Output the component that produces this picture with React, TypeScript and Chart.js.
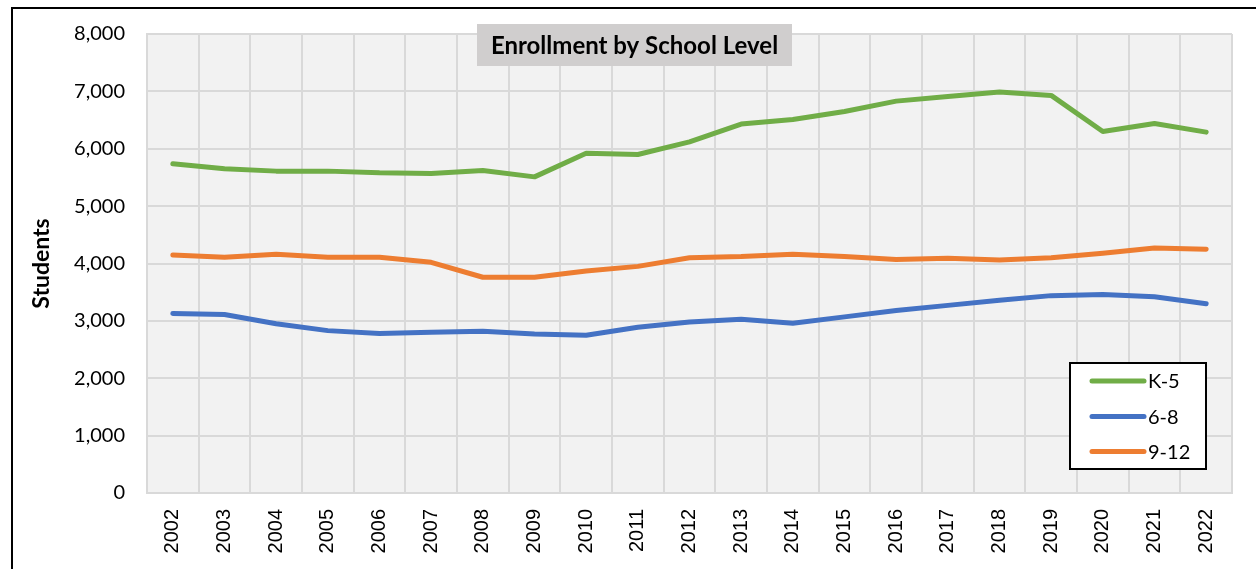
import React, { useEffect, useRef } from "react";
import { Chart, registerables } from "chart.js";

Chart.register(...registerables);

const years = ["2002","2003","2004","2005","2006","2007","2008","2009","2010","2011","2012","2013","2014","2015","2016","2017","2018","2019","2020","2021","2022"];
const k5 = [5740,5650,5610,5610,5580,5570,5620,5510,5920,5900,6120,6430,6510,6650,6830,6910,6990,6930,6300,6440,6290];
const g68 = [3130,3110,2950,2830,2780,2800,2820,2770,2750,2890,2980,3030,2960,3070,3180,3270,3360,3440,3460,3420,3300];
const g912 = [4150,4110,4160,4110,4110,4020,3760,3760,3870,3950,4100,4120,4160,4120,4070,4090,4060,4100,4180,4270,4250];
const seriesNames = ["K-5", "6-8", "9-12"];
const seriesColors = ["#70ad47", "#4472c4", "#ed7d31"];
const titleText = "Enrollment by School Level";
const yTitle = "Students";

const FONT = "Lato, 'Open Sans', sans-serif";

const decorPlugin = {
  id: "decor",
  beforeDraw(chart: any) {
    const { ctx, chartArea } = chart;
    ctx.save();
    ctx.fillStyle = "#ffffff";
    ctx.fillRect(0, 0, chart.width, chart.height);
    ctx.fillStyle = "#f2f2f2";
    ctx.fillRect(chartArea.left, chartArea.top, chartArea.right - chartArea.left, chartArea.bottom - chartArea.top);
    // outer frame
    ctx.strokeStyle = "#000";
    ctx.lineWidth = 2;
    ctx.beginPath();
    ctx.moveTo(12, chart.height);
    ctx.lineTo(12, 8);
    ctx.lineTo(chart.width, 8);
    ctx.stroke();
    ctx.restore();
  },
  afterDraw(chart: any) {
    const { ctx } = chart;
    ctx.save();
    // title box
    ctx.fillStyle = "#d0cece";
    ctx.fillRect(477, 24, 315, 42);
    ctx.fillStyle = "#000";
    ctx.font = `bold 24px ${FONT}`;
    ctx.textAlign = "center";
    ctx.textBaseline = "middle";
    ctx.fillText(titleText, 634.5, 46);
    // legend
    const bx = 1070, by = 363, bw = 136, bh = 106;
    ctx.fillStyle = "#ffffff";
    ctx.fillRect(bx, by, bw, bh);
    ctx.strokeStyle = "#000";
    ctx.lineWidth = 2;
    ctx.strokeRect(bx, by, bw, bh);
    const rows = [381, 416.5, 451.5];
    seriesNames.forEach((name, i) => {
      ctx.strokeStyle = seriesColors[i];
      ctx.lineWidth = 5;
      ctx.lineCap = "round";
      ctx.beginPath();
      ctx.moveTo(1092, rows[i]);
      ctx.lineTo(1144, rows[i]);
      ctx.stroke();
      ctx.fillStyle = "#000";
      ctx.font = `20px ${FONT}`;
      ctx.textAlign = "left";
      ctx.textBaseline = "middle";
      ctx.fillText(name, 1148, rows[i] + 1);
    });
    ctx.restore();
  },
};

export default function App() {
  const ref = useRef<HTMLCanvasElement>(null);
  useEffect(() => {
    if (!ref.current) return;
    const data = [k5, g68, g912];
    const chart = new Chart(ref.current, {
      type: "line",
      data: {
        labels: years,
        datasets: seriesNames.map((n, i) => ({
          label: n,
          data: data[i],
          borderColor: seriesColors[i],
          backgroundColor: seriesColors[i],
          borderWidth: 5,
          borderCapStyle: "round",
          borderJoinStyle: "round",
          pointRadius: 0,
          tension: 0,
          fill: false,
        })),
      },
      options: {
        responsive: false,
        animation: false,
        layout: { padding: { top: 34, right: 24, bottom: 0, left: 0 } },
        plugins: {
          legend: { display: false },
          title: { display: false },
          tooltip: { enabled: false },
        },
        scales: {
          x: {
            offset: true,
            grid: { offset: true, color: "#d9d9d9", lineWidth: 2, drawTicks: false },
            border: { display: true, color: "#d9d9d9", width: 2 },
            ticks: {
              autoSkip: false,
              maxRotation: 90,
              minRotation: 90,
              padding: 16,
              color: "#000",
              font: { family: "'Liberation Sans', Arial, sans-serif", size: 20 },
            },
            afterFit(scale: any) {
              scale.height = 76;
            },
          },
          y: {
            min: 0,
            max: 8000,
            grid: { color: "#d9d9d9", lineWidth: 2, drawTicks: false },
            border: { display: true, color: "#d9d9d9", width: 2 },
            ticks: {
              stepSize: 1000,
              padding: 22,
              color: "#000",
              font: { family: FONT, size: 20 },
              callback: (v: any) => Number(v).toLocaleString("en-US"),
            },
            title: {
              display: true,
              text: yTitle,
              color: "#000",
              font: { family: FONT, size: 23, weight: "bold" },
              padding: { top: 28, bottom: 0 },
            },
            afterFit(scale: any) {
              scale.width = 147;
            },
          },
        },
      },
      plugins: [decorPlugin],
    } as any);
    return () => chart.destroy();
  }, []);
  return (
    <div style={{ position: "fixed", left: 0, top: 0, width: 1256, height: 569, background: "#fff" }}>
      <canvas ref={ref} width={1256} height={569} style={{ display: "block" }} />
    </div>
  );
}
